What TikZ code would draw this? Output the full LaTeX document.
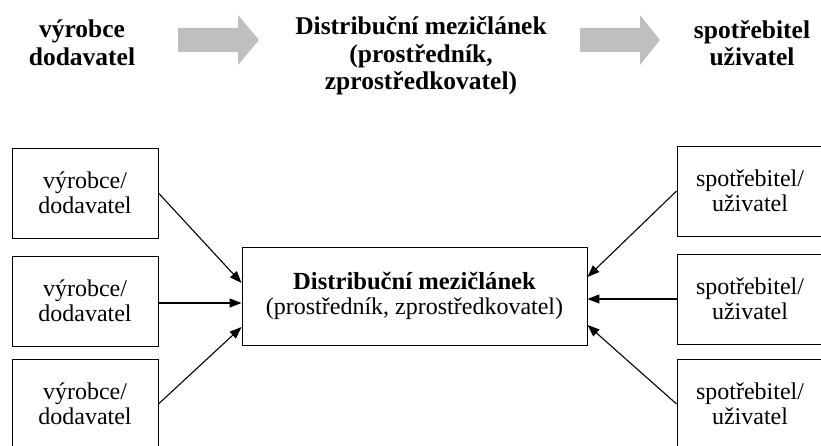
\documentclass[tikz,border=0pt]{standalone}
\usepackage{fontspec}
\setmainfont{Liberation Serif}
\usetikzlibrary{arrows.meta,calc}
\begin{document}
\begin{tikzpicture}[x=1bp,y=-1bp,
  party/.style={draw=black,line width=0.9bp,minimum width=146bp,minimum height=90bp,
    align=center,inner sep=0pt,font=\fontsize{24bp}{25.5bp}\selectfont},
  hub/.style={draw=black,line width=0.9bp,minimum width=345bp,minimum height=98bp,
    align=center,inner sep=0pt,font=\fontsize{24bp}{25bp}\selectfont},
  heading/.style={align=center,inner sep=0pt,font=\fontsize{25.5bp}{27.5bp}\selectfont\bfseries},
  flow/.style={line width=1.1bp,-{Triangle[length=12bp,width=9bp]}},
  bigarrow/.style={fill=black!25}]
\clip (0,0) rectangle (821,446);
\fill[white] (0,0) rectangle (821,446);

% headline row
\node[heading] (hprod) at (82,43) {výrobce\\dodavatel};
\node[heading] (hmid) at (421,56) {Distribuční mezičlánek\\(prostředník,\\zprostředkovatel)};
\node[heading] (hcons) at (752,43) {spotřebitel\\uživatel};
\fill[bigarrow] (178,28) -- (238,28) -- (238,15) -- (259,40) -- (238,65) -- (238,52) -- (178,52) -- cycle;
\fill[bigarrow] (580,28) -- (640,28) -- (640,15) -- (660,40) -- (640,65) -- (640,52) -- (580,52) -- cycle;

% producers
\node[party] (p1) at (85,193) {výrobce/\\dodavatel};
\node[party] (p2) at (85,301) {výrobce/\\dodavatel};
\node[party] (p3) at (85,404) {výrobce/\\dodavatel};

% intermediary
\node[hub] (mid) at (414.5,296) {{\fontsize{24.6bp}{25bp}\selectfont\bfseries Distribuční mezičlánek}\\(prostředník, zprostředkovatel)};

% consumers
\node[party] (c1) at (750,191) {spotřebitel/\\uživatel};
\node[party] (c2) at (750,299) {spotřebitel/\\uživatel};
\node[party] (c3) at (750,404) {spotřebitel/\\uživatel};

% flows into the intermediary
\draw[flow] (p1.east) -- ($(mid.west)+(0,-13)$);
\draw[flow] (p2.east |- 0,303) -- ($(mid.west)+(0,7)$);
\draw[flow] (p3.east) -- ($(mid.west)+(0,31)$);
\draw[flow] (c1.west) -- ($(mid.east)+(0,-19)$);
\draw[flow] (c2.west) -- ($(mid.east)+(0,3)$);
\draw[flow] (c3.west) -- ($(mid.east)+(0,29)$);
\end{tikzpicture}
\end{document}
